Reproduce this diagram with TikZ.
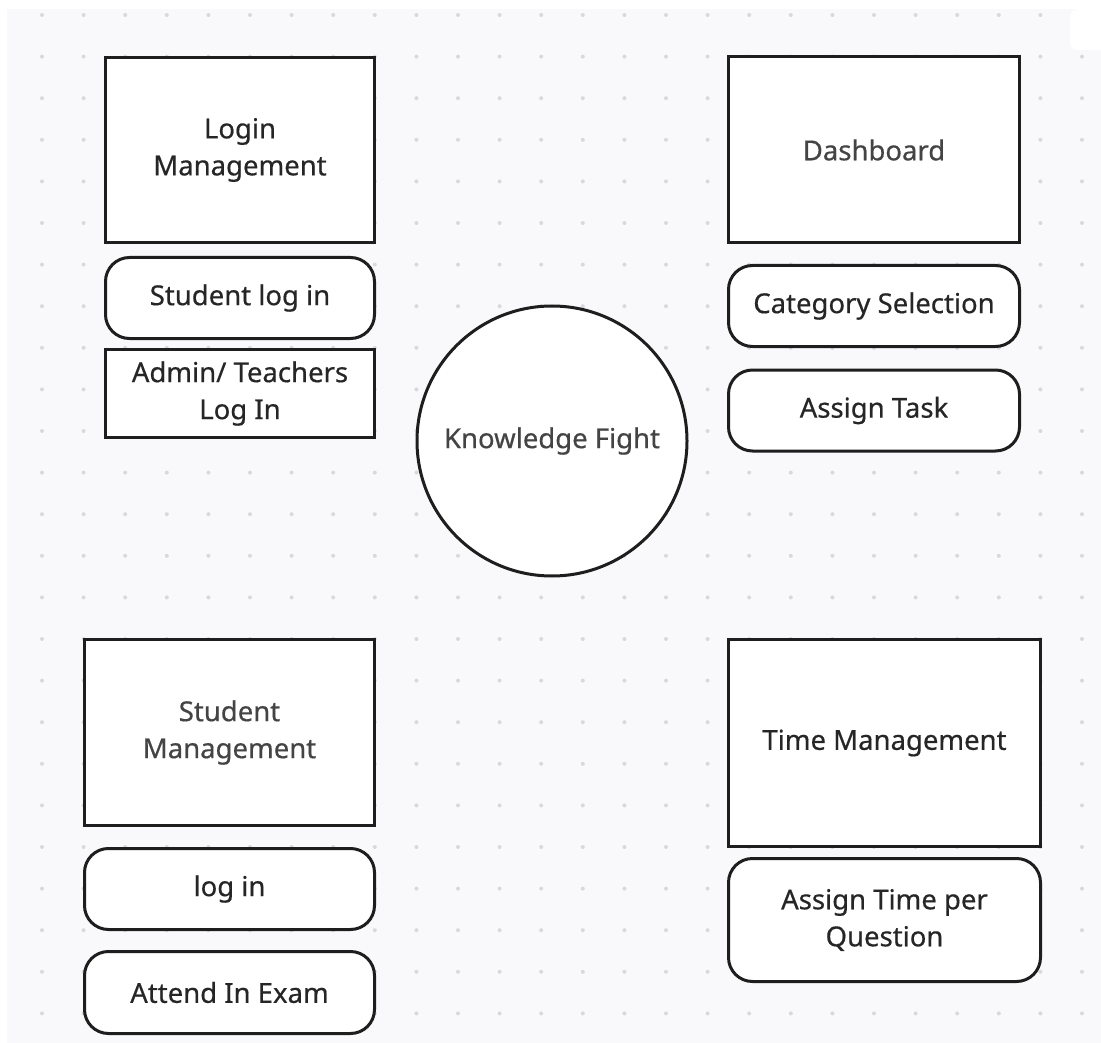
\documentclass[tikz,border=0pt]{standalone}
\usepackage{fontspec}
\setmainfont{Noto Sans}
\newfontfamily\labelfont{Noto Sans}[FakeBold=0.5]
\usepackage{xcolor}
\usetikzlibrary{positioning}

\definecolor{canvas}{HTML}{F9F9FB}
\definecolor{griddot}{HTML}{D9D9DD}
\definecolor{edge}{HTML}{1E1E1E}
\definecolor{inkdark}{HTML}{262626}
\definecolor{inkgray}{HTML}{444444}

\tikzset{
  module/.style={draw=edge, line width=3pt, fill=white, align=center,
    inner sep=0pt, text=inkgray, font=\labelfont\fontsize{27.5}{37}\selectfont},
  task/.style={module, rounded corners=24pt},
  hub/.style={module, circle, minimum size=270pt}
}

\begin{document}
\begin{tikzpicture}[x=1pt, y=-1pt]
  \useasboundingbox (0,0) rectangle (1101,1043);
  \fill[white] (0,0) rectangle (1101,1043);
  \fill[canvas] (7,9) rectangle (1101,1043);
  % dotted canvas
  \foreach \i in {0,...,25}
    \foreach \j in {0,...,24}
      \fill[griddot] (42+41.6*\i, 15+41.6*\j) circle (2pt);
  \fill[white, rounded corners=8pt] (1070,9) rectangle (1115,50);

  % login management
  \node[module, minimum width=269pt, minimum height=185pt, text=inkdark] (login) at (240,150) {Login\\Management};
  \node[task, minimum width=269pt, minimum height=81pt, text=inkdark] (studentlogin) at (240,298) {Student log in};
  \node[module, minimum width=269pt, minimum height=88pt, text=inkdark] (adminlogin) at (240,393.5) {Admin/ Teachers\\Log In};

  % dashboard
  \node[module, minimum width=291pt, minimum height=186pt] (dash) at (874,150) {Dashboard};
  \node[task, minimum width=291pt, minimum height=81pt, text=inkdark] (category) at (874,306) {Category Selection};
  \node[task, minimum width=291pt, minimum height=81pt, text=inkdark] (assigntask) at (874,410.5) {Assign Task};

  % centre
  \node[hub] (kf) at (552,441) {Knowledge Fight};

  % student management
  \node[module, minimum width=290pt, minimum height=186pt] (stumgmt) at (229.5,732.5) {Student\\Management};
  \node[task, minimum width=290pt, minimum height=81pt, text=inkdark] (stulogin) at (229.5,889) {log in};
  \node[task, minimum width=290pt, minimum height=82pt, text=inkdark] (exam) at (229.5,992.5) {Attend In Exam};

  % time management
  \node[module, minimum width=312pt, minimum height=207pt, text=inkdark] (timemgmt) at (884.5,743) {Time Management};
  \node[task, minimum width=312pt, minimum height=123pt, text=inkdark] (assigntime) at (884.5,920) {Assign Time per\\Question};
\end{tikzpicture}
\end{document}
